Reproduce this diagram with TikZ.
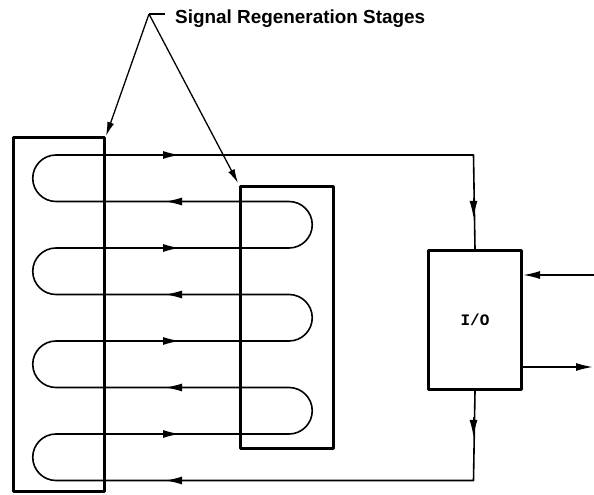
\documentclass[tikz,border=0pt]{standalone}
\usepackage{fontspec}
\setmainfont{Liberation Sans}
\newfontfamily\monofnt{Liberation Mono}
\usetikzlibrary{arrows.meta}
\begin{document}
\begin{tikzpicture}[x=1pt,y=1pt,
  boxstyle/.style={draw,line width=3pt,line join=round},
  wire/.style={line width=1.6pt,line join=round},
  tip/.style={-{Latex[length=17pt,width=8pt]},line width=1.6pt},
  leader/.style={line width=1.3pt},
  leadtip/.style={-{Latex[length=14pt,width=7pt]},line width=1.3pt}]
\useasboundingbox (0,0) rectangle (594,495);
% boxes
\draw[boxstyle] (13,3) rectangle (104,357);
\draw[boxstyle] (240,46) rectangle (333,308);
\node[boxstyle,minimum width=93pt,minimum height=139pt,inner sep=0pt,anchor=south west] (io) at (427,104) {};
\node at (io.center) {\monofnt\bfseries\fontsize{16}{16}\selectfont I/O};
% coordinates
\coordinate (bl) at (473.5,14.5);
\coordinate (tr) at (473.5,340);
% serpentine signal path
\draw[wire] (io.south) -- (bl) -- (56,14.5)
  arc[start angle=270,end angle=90,radius=23.25] -- (289,61)
  arc[start angle=-90,end angle=90,radius=23.25] -- (56,107.5)
  arc[start angle=270,end angle=90,radius=23.25] -- (289,154)
  arc[start angle=-90,end angle=90,radius=23.25] -- (56,200.5)
  arc[start angle=270,end angle=90,radius=23.25] -- (289,247)
  arc[start angle=-90,end angle=90,radius=23.25] -- (56,293.5)
  arc[start angle=270,end angle=90,radius=23.25] -- (tr) -- (io.north);
% mid-line arrowheads
\foreach \y in {61,154,247,340} \draw[tip] (160,\y) -- (180,\y);
\foreach \y in {14.5,107.5,200.5,293.5} \draw[tip] (185,\y) -- (165,\y);
\draw[tip] (473.5,297) -- (473.5,277);
\draw[tip] (473.5,78) -- (473.5,58);
% I/O external connections
\coordinate (inp) at (594,220);
\coordinate (outp) at (593,128);
\draw[tip] (inp) -- (io.east |- inp);
\draw[tip] (io.east |- outp) -- (outp);
% label and leaders
\coordinate (apex) at (149,481);
\coordinate (lt) at (106,359);
\coordinate (rt) at (238,312);
\draw[leader] (165,481) -- (apex);
\draw[leadtip] (apex) -- (lt);
\draw[leadtip] (apex) -- (rt);
\node[anchor=west,inner sep=0pt] (lbl) at (175,476) {\resizebox{250pt}{!}{\bfseries\fontsize{17}{17}\selectfont Signal Regeneration Stages}};
\end{tikzpicture}
\end{document}
